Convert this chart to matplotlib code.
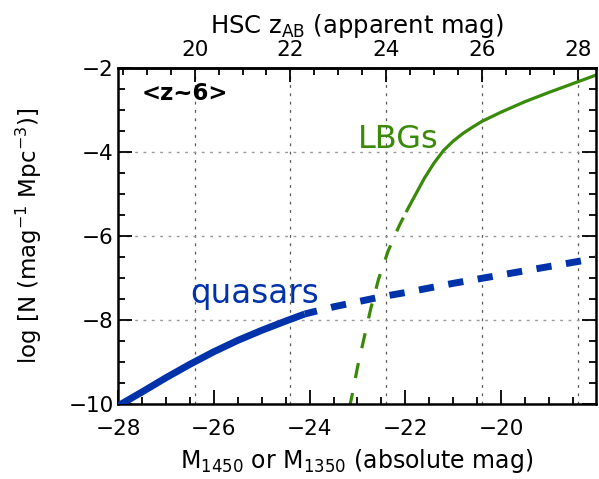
import matplotlib
matplotlib.use('Agg')
import matplotlib.pyplot as plt
from matplotlib.ticker import MultipleLocator
import numpy as np

plt.rcParams['font.family'] = ['DejaVu Sans']
plt.rcParams['mathtext.default'] = 'regular'
plt.rcParams['lines.scale_dashes'] = False

# quasar LF (absolute mag, log N)
qso_mag_solid = [-28.0, -27.5, -27.0, -26.5, -26.0, -25.5, -25.0, -24.5, -24.1]
qso_phi_solid = [-10.05, -9.72, -9.38, -9.06, -8.76, -8.49, -8.25, -8.03, -7.86]
qso_mag_dash = [-24.1, -23.5, -23.0, -22.5, -22.0, -21.5, -21.0, -20.5, -20.0,
                -19.5, -19.0, -18.5, -18.0]
qso_phi_dash = [-7.86, -7.69, -7.57, -7.45, -7.35, -7.24, -7.13, -7.03, -6.93,
                -6.83, -6.73, -6.63, -6.53]

# LBG LF
lbg_mag_dash = [-23.17, -23.12, -23.0, -22.86, -22.72, -22.56, -22.36, -22.13, -21.97]
lbg_phi_dash = [-10.1, -9.84, -9.13, -8.42, -7.72, -7.03, -6.36, -5.76, -5.40]
lbg_mag_solid = [-21.97, -21.8, -21.6, -21.4, -21.2, -21.0, -20.8, -20.6, -20.4,
                 -20.0, -19.5, -19.0, -18.5, -18.0]
lbg_phi_solid = [-5.40, -5.04, -4.62, -4.26, -3.96, -3.74, -3.56, -3.41, -3.27,
                 -3.05, -2.80, -2.58, -2.37, -2.16]

# top axis: apparent mag = absolute mag + offset
mag_offset = 46.4
top_ticks = [20, 22, 24, 26, 28]
bottom_ticks = [-28, -26, -24, -22, -20]
y_ticks = [-10, -8, -6, -4, -2]

blue = '#0033aa'
green = '#3a8a0a'

fig = plt.figure(figsize=(5.99, 4.79), dpi=100)
ax = fig.add_axes([0.197, 0.157, 0.798, 0.701])

ax.set_xlim(-28, -18.02)
ax.set_ylim(-10, -2)

# grid
ax.grid(axis='y', color='0.6', linestyle=(0, (2, 4)), linewidth=1.0, zorder=0)
for t in top_ticks:
    ax.axvline(t - mag_offset, color='0.35', linestyle=(0, (2, 4)), linewidth=0.9, zorder=0)

# curves
ax.plot(qso_mag_solid, qso_phi_solid, color=blue, lw=5, solid_capstyle='butt', zorder=3)
ax.plot(qso_mag_dash, qso_phi_dash, color=blue, lw=5, linestyle=(2, (11, 10.5)),
        dash_capstyle='butt', zorder=3)
ax.plot(lbg_mag_dash, lbg_phi_dash, color=green, lw=2.3, linestyle=(0, (11, 11)),
        dash_capstyle='butt', zorder=2)
ax.plot(lbg_mag_solid, lbg_phi_solid, color=green, lw=2.3, zorder=2)

# labels in plot
ax.text(-27.5, -2.6, '<z~6>', fontsize=16.5, fontweight='bold', ha='left', va='center')
ax.text(-26.5, -7.38, 'quasars', fontsize=23.5, color=blue, ha='left', va='center')
ax.text(-23.0, -3.71, 'LBGs', fontsize=23, color=green, ha='left', va='center')

# ticks
ax.set_xticks(bottom_ticks)
ax.set_yticks(y_ticks)
ax.xaxis.set_minor_locator(MultipleLocator(0.5))
ax.yaxis.set_minor_locator(MultipleLocator(0.5))
ax.tick_params(which='both', direction='in', top=False, right=True, width=1.3)
ax.tick_params(which='major', length=10, labelsize=15.5)
ax.tick_params(which='minor', length=5)
ax.tick_params(axis='x', pad=11)
ax.tick_params(axis='y', pad=3)
for s in ax.spines.values():
    s.set_linewidth(1.8)

ax.set_xlabel('M$_{1450}$ or M$_{1350}$ (absolute mag)', fontsize=17, labelpad=6)
ax.set_ylabel('log [N (mag$^{-1}$ Mpc$^{-3}$)]', fontsize=16.5, labelpad=18)

secax = ax.secondary_xaxis('top', functions=(lambda m: m + mag_offset, lambda z: z - mag_offset))
secax.set_xticks(top_ticks)
secax.xaxis.set_minor_locator(MultipleLocator(0.5))
secax.tick_params(which='both', direction='in', width=1.3)
secax.tick_params(which='major', length=10, labelsize=15.5, pad=6)
secax.tick_params(which='minor', length=5)
secax.spines['top'].set_linewidth(1.8)
secax.set_xlabel('HSC z$_{AB}$ (apparent mag)', fontsize=17.5, labelpad=5)

fig.savefig('out.png', dpi=100)
